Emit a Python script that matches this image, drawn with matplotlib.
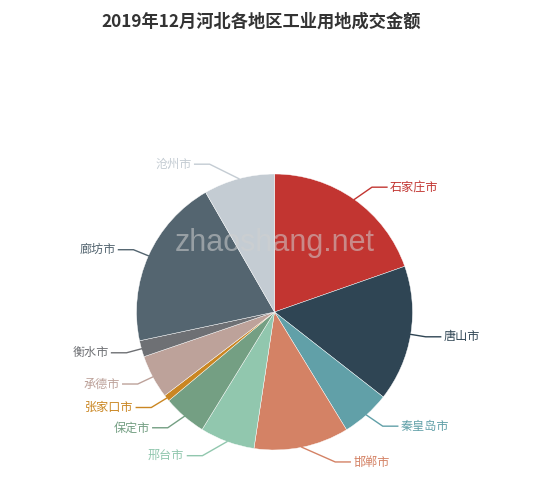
import numpy as np
import matplotlib
matplotlib.use("Agg")
import matplotlib.pyplot as plt

plt.rcParams['font.family'] = ['Noto Sans CJK SC', 'DejaVu Sans']

# 2019年12月 河北各地区工业用地成交金额 (share, %)
cities = ["石家庄市", "唐山市", "秦皇岛市", "邯郸市", "邢台市", "保定市",
          "张家口市", "承德市", "衡水市", "廊坊市", "沧州市"]
values = [19.6, 15.9, 5.7, 11.1, 6.4, 5.1, 0.75, 5.1, 1.9, 20.0, 8.3]
colors = ['#c23531', '#2f4554', '#61a0a8', '#d48265', '#91c7ae', '#749f83',
          '#ca8622', '#bda29a', '#6e7074', '#546570', '#c4ccd3']

W, H = 550, 490
fig = plt.figure(figsize=(W / 100, H / 100), dpi=100)
ax = fig.add_axes([0, 0, 1, 1])

# pixel coords, y measured from top
cx, cy, r = 274.5, 312, 138
len1, len2 = 15, 15

ax.pie(values, colors=colors, startangle=90, counterclock=False,
       center=(cx, H - cy), radius=r, frame=True,
       wedgeprops=dict(edgecolor='white', linewidth=0.3))
ax.set_xlim(0, W)
ax.set_ylim(0, H)
ax.set_aspect('equal')
ax.axis('off')

# labels with guide lines, laid out the way ECharts does it
total = sum(values)
cum = np.cumsum([0] + values)
for i, name in enumerate(cities):
    mid = np.deg2rad((cum[i] + values[i] / 2) / total * 360)
    dx, dy = np.sin(mid), -np.cos(mid)
    x0, y0 = cx + r * dx, cy + r * dy
    y1 = cy + (r + len1) * dy
    s = 1 if dx >= 0 else -1
    ddy = abs(y1 - cy)
    ddx = np.sqrt((r + len1 + len2) ** 2 - ddy ** 2)
    xt = cx + ddx * s
    x1 = xt - len2 * s
    ax.plot([x0, x1, xt], [H - y0, H - y1, H - y1], color=colors[i], lw=1)
    ax.text(xt + 3 * s, H - y1, name, color=colors[i], fontsize=8.7,
            ha='left' if s > 0 else 'right', va='center')

ax.text(261, H - 22, "2019年12月河北各地区工业用地成交金额", ha='center',
        va='center', fontsize=12.4, fontweight='bold', color='#333333')

ax.text(cx, H - 243, "zhaoshang.net", ha='center', va='center',
        fontsize=22, color='#d0d0d0', alpha=0.55, family='Liberation Sans')

fig.savefig("out.png", dpi=100)
